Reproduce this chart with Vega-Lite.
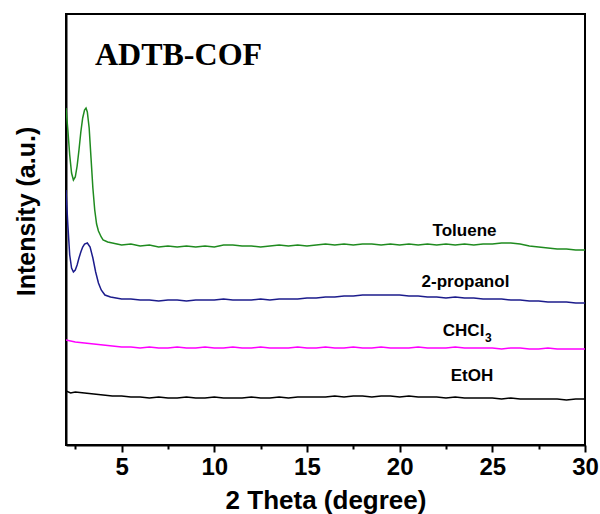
{
  "$schema": "https://vega.github.io/schema/vega-lite/v6.json",
  "width": 519,
  "height": 431,
  "autosize": "none",
  "padding": {"left": 66, "top": 14, "right": 15, "bottom": 69},
  "background": "white",
  "config": {
    "view": {"stroke": "black", "strokeWidth": 2},
    "font": "Liberation Sans"
  },
  "datasets": {
    "xrd": [
      {"s":"Toluene","x":2.0,"y":337},{"s":"Toluene","x":2.1,"y":315},{"s":"Toluene","x":2.2,"y":290},{"s":"Toluene","x":2.3,"y":272},{"s":"Toluene","x":2.4,"y":265},{"s":"Toluene","x":2.5,"y":268},{"s":"Toluene","x":2.6,"y":279},{"s":"Toluene","x":2.7,"y":295},{"s":"Toluene","x":2.8,"y":313},{"s":"Toluene","x":2.9,"y":327},{"s":"Toluene","x":3.0,"y":335},{"s":"Toluene","x":3.08,"y":337},{"s":"Toluene","x":3.15,"y":333},{"s":"Toluene","x":3.25,"y":317},{"s":"Toluene","x":3.35,"y":287},{"s":"Toluene","x":3.45,"y":257},{"s":"Toluene","x":3.55,"y":235},{"s":"Toluene","x":3.65,"y":221},{"s":"Toluene","x":3.75,"y":214},{"s":"Toluene","x":3.9,"y":208},{"s":"Toluene","x":4.0,"y":205},{"s":"Toluene","x":4.25,"y":203},{"s":"Toluene","x":4.5,"y":202},{"s":"Toluene","x":4.75,"y":201},{"s":"Toluene","x":5.0,"y":200},{"s":"Toluene","x":5.5,"y":201},{"s":"Toluene","x":6.0,"y":199},{"s":"Toluene","x":6.5,"y":200},{"s":"Toluene","x":7.0,"y":198},{"s":"Toluene","x":7.5,"y":199},{"s":"Toluene","x":8.0,"y":198},{"s":"Toluene","x":8.5,"y":199},{"s":"Toluene","x":9.0,"y":198},{"s":"Toluene","x":9.5,"y":199},{"s":"Toluene","x":10.0,"y":198},{"s":"Toluene","x":10.5,"y":200},{"s":"Toluene","x":11.0,"y":200},{"s":"Toluene","x":11.5,"y":199},{"s":"Toluene","x":12.0,"y":199},{"s":"Toluene","x":12.5,"y":198},{"s":"Toluene","x":13.0,"y":199},{"s":"Toluene","x":13.5,"y":200},{"s":"Toluene","x":14.0,"y":199},{"s":"Toluene","x":14.5,"y":200},{"s":"Toluene","x":15.0,"y":199},{"s":"Toluene","x":15.5,"y":200},{"s":"Toluene","x":16.0,"y":201},{"s":"Toluene","x":16.5,"y":200},{"s":"Toluene","x":17.0,"y":201},{"s":"Toluene","x":17.5,"y":200},{"s":"Toluene","x":18.0,"y":201},{"s":"Toluene","x":18.5,"y":201},{"s":"Toluene","x":19.0,"y":200},{"s":"Toluene","x":19.5,"y":201},{"s":"Toluene","x":20.0,"y":200},{"s":"Toluene","x":20.5,"y":201},{"s":"Toluene","x":21.0,"y":200},{"s":"Toluene","x":21.5,"y":201},{"s":"Toluene","x":22.0,"y":200},{"s":"Toluene","x":22.5,"y":201},{"s":"Toluene","x":23.0,"y":200},{"s":"Toluene","x":23.5,"y":201},{"s":"Toluene","x":24.0,"y":200},{"s":"Toluene","x":24.5,"y":201},{"s":"Toluene","x":25.0,"y":201},{"s":"Toluene","x":25.5,"y":202},{"s":"Toluene","x":26.0,"y":202},{"s":"Toluene","x":26.5,"y":201},{"s":"Toluene","x":27.0,"y":199},{"s":"Toluene","x":27.5,"y":198},{"s":"Toluene","x":28.0,"y":197},{"s":"Toluene","x":28.5,"y":196},{"s":"Toluene","x":29.0,"y":196},{"s":"Toluene","x":29.5,"y":195},{"s":"Toluene","x":30.0,"y":195},
      {"s":"2-propanol","x":2.0,"y":255},{"s":"2-propanol","x":2.1,"y":220},{"s":"2-propanol","x":2.2,"y":190},{"s":"2-propanol","x":2.3,"y":177},{"s":"2-propanol","x":2.4,"y":173},{"s":"2-propanol","x":2.5,"y":175},{"s":"2-propanol","x":2.6,"y":180},{"s":"2-propanol","x":2.7,"y":187},{"s":"2-propanol","x":2.8,"y":193},{"s":"2-propanol","x":2.9,"y":198},{"s":"2-propanol","x":3.0,"y":201},{"s":"2-propanol","x":3.15,"y":202},{"s":"2-propanol","x":3.3,"y":198},{"s":"2-propanol","x":3.45,"y":187},{"s":"2-propanol","x":3.6,"y":173},{"s":"2-propanol","x":3.75,"y":162},{"s":"2-propanol","x":3.9,"y":155},{"s":"2-propanol","x":4.1,"y":150},{"s":"2-propanol","x":4.4,"y":148},{"s":"2-propanol","x":4.7,"y":147},{"s":"2-propanol","x":5.0,"y":146},{"s":"2-propanol","x":5.5,"y":146},{"s":"2-propanol","x":6.0,"y":145},{"s":"2-propanol","x":6.5,"y":145},{"s":"2-propanol","x":7.0,"y":144},{"s":"2-propanol","x":7.5,"y":145},{"s":"2-propanol","x":8.0,"y":145},{"s":"2-propanol","x":8.5,"y":144},{"s":"2-propanol","x":9.0,"y":145},{"s":"2-propanol","x":9.5,"y":145},{"s":"2-propanol","x":10.0,"y":145},{"s":"2-propanol","x":10.5,"y":146},{"s":"2-propanol","x":11.0,"y":145},{"s":"2-propanol","x":11.5,"y":145},{"s":"2-propanol","x":12.0,"y":145},{"s":"2-propanol","x":12.5,"y":146},{"s":"2-propanol","x":13.0,"y":145},{"s":"2-propanol","x":13.5,"y":146},{"s":"2-propanol","x":14.0,"y":146},{"s":"2-propanol","x":14.5,"y":146},{"s":"2-propanol","x":15.0,"y":147},{"s":"2-propanol","x":15.5,"y":147},{"s":"2-propanol","x":16.0,"y":148},{"s":"2-propanol","x":16.5,"y":148},{"s":"2-propanol","x":17.0,"y":149},{"s":"2-propanol","x":17.5,"y":149},{"s":"2-propanol","x":18.0,"y":150},{"s":"2-propanol","x":18.5,"y":150},{"s":"2-propanol","x":19.0,"y":150},{"s":"2-propanol","x":19.5,"y":150},{"s":"2-propanol","x":20.0,"y":150},{"s":"2-propanol","x":20.5,"y":149},{"s":"2-propanol","x":21.0,"y":149},{"s":"2-propanol","x":21.5,"y":148},{"s":"2-propanol","x":22.0,"y":148},{"s":"2-propanol","x":22.5,"y":147},{"s":"2-propanol","x":23.0,"y":148},{"s":"2-propanol","x":23.5,"y":147},{"s":"2-propanol","x":24.0,"y":147},{"s":"2-propanol","x":24.5,"y":146},{"s":"2-propanol","x":25.0,"y":146},{"s":"2-propanol","x":25.5,"y":146},{"s":"2-propanol","x":26.0,"y":145},{"s":"2-propanol","x":26.5,"y":145},{"s":"2-propanol","x":27.0,"y":144},{"s":"2-propanol","x":27.5,"y":144},{"s":"2-propanol","x":28.0,"y":143},{"s":"2-propanol","x":28.5,"y":143},{"s":"2-propanol","x":29.0,"y":143},{"s":"2-propanol","x":29.5,"y":142},{"s":"2-propanol","x":30.0,"y":142},
      {"s":"CHCl3","x":2.0,"y":105},{"s":"CHCl3","x":2.5,"y":103},{"s":"CHCl3","x":3.0,"y":102},{"s":"CHCl3","x":3.5,"y":101},{"s":"CHCl3","x":4.0,"y":100},{"s":"CHCl3","x":4.5,"y":99},{"s":"CHCl3","x":5.0,"y":98},{"s":"CHCl3","x":5.5,"y":98},{"s":"CHCl3","x":6.0,"y":97},{"s":"CHCl3","x":6.5,"y":98},{"s":"CHCl3","x":7.0,"y":97},{"s":"CHCl3","x":7.5,"y":97},{"s":"CHCl3","x":8.0,"y":98},{"s":"CHCl3","x":8.5,"y":97},{"s":"CHCl3","x":9.0,"y":97},{"s":"CHCl3","x":9.5,"y":98},{"s":"CHCl3","x":10.0,"y":97},{"s":"CHCl3","x":10.5,"y":97},{"s":"CHCl3","x":11.0,"y":98},{"s":"CHCl3","x":11.5,"y":97},{"s":"CHCl3","x":12.0,"y":97},{"s":"CHCl3","x":12.5,"y":98},{"s":"CHCl3","x":13.0,"y":97},{"s":"CHCl3","x":13.5,"y":97},{"s":"CHCl3","x":14.0,"y":97},{"s":"CHCl3","x":14.5,"y":98},{"s":"CHCl3","x":15.0,"y":97},{"s":"CHCl3","x":15.5,"y":97},{"s":"CHCl3","x":16.0,"y":98},{"s":"CHCl3","x":16.5,"y":97},{"s":"CHCl3","x":17.0,"y":97},{"s":"CHCl3","x":17.5,"y":98},{"s":"CHCl3","x":18.0,"y":97},{"s":"CHCl3","x":18.5,"y":97},{"s":"CHCl3","x":19.0,"y":98},{"s":"CHCl3","x":19.5,"y":97},{"s":"CHCl3","x":20.0,"y":97},{"s":"CHCl3","x":20.5,"y":97},{"s":"CHCl3","x":21.0,"y":98},{"s":"CHCl3","x":21.5,"y":97},{"s":"CHCl3","x":22.0,"y":97},{"s":"CHCl3","x":22.5,"y":97},{"s":"CHCl3","x":23.0,"y":98},{"s":"CHCl3","x":23.5,"y":97},{"s":"CHCl3","x":24.0,"y":97},{"s":"CHCl3","x":24.5,"y":97},{"s":"CHCl3","x":25.0,"y":97},{"s":"CHCl3","x":25.5,"y":96},{"s":"CHCl3","x":26.0,"y":97},{"s":"CHCl3","x":26.5,"y":97},{"s":"CHCl3","x":27.0,"y":96},{"s":"CHCl3","x":27.5,"y":96},{"s":"CHCl3","x":28.0,"y":97},{"s":"CHCl3","x":28.5,"y":96},{"s":"CHCl3","x":29.0,"y":96},{"s":"CHCl3","x":29.5,"y":96},{"s":"CHCl3","x":30.0,"y":96},
      {"s":"EtOH","x":2.0,"y":54},{"s":"EtOH","x":2.25,"y":52},{"s":"EtOH","x":2.5,"y":53},{"s":"EtOH","x":3.0,"y":52},{"s":"EtOH","x":3.5,"y":51},{"s":"EtOH","x":4.0,"y":50},{"s":"EtOH","x":4.5,"y":49},{"s":"EtOH","x":5.0,"y":49},{"s":"EtOH","x":5.5,"y":48},{"s":"EtOH","x":6.0,"y":48},{"s":"EtOH","x":6.5,"y":47},{"s":"EtOH","x":7.0,"y":48},{"s":"EtOH","x":7.5,"y":47},{"s":"EtOH","x":8.0,"y":47},{"s":"EtOH","x":8.5,"y":48},{"s":"EtOH","x":9.0,"y":47},{"s":"EtOH","x":9.5,"y":47},{"s":"EtOH","x":10.0,"y":48},{"s":"EtOH","x":10.5,"y":47},{"s":"EtOH","x":11.0,"y":47},{"s":"EtOH","x":11.5,"y":47},{"s":"EtOH","x":12.0,"y":48},{"s":"EtOH","x":12.5,"y":47},{"s":"EtOH","x":13.0,"y":47},{"s":"EtOH","x":13.5,"y":48},{"s":"EtOH","x":14.0,"y":47},{"s":"EtOH","x":14.5,"y":48},{"s":"EtOH","x":15.0,"y":48},{"s":"EtOH","x":15.5,"y":48},{"s":"EtOH","x":16.0,"y":48},{"s":"EtOH","x":16.5,"y":49},{"s":"EtOH","x":17.0,"y":48},{"s":"EtOH","x":17.5,"y":49},{"s":"EtOH","x":18.0,"y":49},{"s":"EtOH","x":18.5,"y":48},{"s":"EtOH","x":19.0,"y":49},{"s":"EtOH","x":19.5,"y":49},{"s":"EtOH","x":20.0,"y":48},{"s":"EtOH","x":20.5,"y":49},{"s":"EtOH","x":21.0,"y":48},{"s":"EtOH","x":21.5,"y":48},{"s":"EtOH","x":22.0,"y":48},{"s":"EtOH","x":22.5,"y":47},{"s":"EtOH","x":23.0,"y":48},{"s":"EtOH","x":23.5,"y":47},{"s":"EtOH","x":24.0,"y":47},{"s":"EtOH","x":24.5,"y":47},{"s":"EtOH","x":25.0,"y":47},{"s":"EtOH","x":25.5,"y":46},{"s":"EtOH","x":26.0,"y":47},{"s":"EtOH","x":26.5,"y":46},{"s":"EtOH","x":27.0,"y":46},{"s":"EtOH","x":27.5,"y":46},{"s":"EtOH","x":28.0,"y":46},{"s":"EtOH","x":28.5,"y":46},{"s":"EtOH","x":29.0,"y":45},{"s":"EtOH","x":29.5,"y":46},{"s":"EtOH","x":30.0,"y":46}
    ],
    "labels": [
      {"t":"Toluene","x":23.5,"y":214},
      {"t":"2-propanol","x":23.55,"y":163},
      {"t":"CHCl","x":23.45,"y":114},
      {"t":"EtOH","x":23.9,"y":69}
    ],
    "subs": [
      {"t":"3","x":24.78,"y":107}
    ],
    "title": [
      {"t":"ADTB-COF","x":8.07,"y":390}
    ]
  },
  "layer": [
    {
      "data": {"name": "xrd"},
      "mark": {"type": "line", "strokeWidth": 1.5, "clip": true},
      "encoding": {
        "x": {
          "field": "x", "type": "quantitative",
          "scale": {"domain": [2, 30], "nice": false, "zero": false},
          "axis": {
            "values": [2.5, 5, 7.5, 10, 12.5, 15, 17.5, 20, 22.5, 25, 27.5, 30],
            "labelExpr": "datum.value % 5 === 0 ? datum.label : ''",
            "title": "2 Theta (degree)",
            "grid": false,
            "domainColor": "black", "domainWidth": 2,
            "tickColor": "black", "tickWidth": 2,
            "tickSize": {"condition": {"test": "datum.value % 5 === 0", "value": 7}, "value": 4},
            "labelFont": "Liberation Sans", "labelFontWeight": "bold", "labelFontSize": 24, "labelColor": "black",
            "labelPadding": 3, "labelFlush": false, "labelOverlap": false,
            "titleFont": "Liberation Sans", "titleFontWeight": "bold", "titleFontSize": 26, "titleColor": "black",
            "titlePadding": 8
          }
        },
        "y": {
          "field": "y", "type": "quantitative",
          "scale": {"domain": [0, 431], "nice": false},
          "axis": {
            "title": "Intensity (a.u.)",
            "labels": false, "ticks": false, "grid": false,
            "domainColor": "black", "domainWidth": 2,
            "titleFont": "Liberation Sans", "titleFontWeight": "bold", "titleFontSize": 25, "titleColor": "black",
            "titlePadding": 27, "titleY": 197
          }
        },
        "color": {
          "field": "s", "type": "nominal",
          "scale": {"domain": ["Toluene", "2-propanol", "CHCl3", "EtOH"], "range": ["#1f8b1f", "#1c1c8c", "#ff00ff", "#000000"]},
          "legend": null
        },
        "detail": {"field": "s"}
      }
    },
    {
      "data": {"name": "labels"},
      "mark": {"type": "text", "font": "Liberation Sans", "fontWeight": "bold", "fontSize": 17, "color": "black", "align": "center", "baseline": "middle"},
      "encoding": {
        "x": {"field": "x", "type": "quantitative"},
        "y": {"field": "y", "type": "quantitative"},
        "text": {"field": "t"}
      }
    },
    {
      "data": {"name": "subs"},
      "mark": {"type": "text", "font": "Liberation Sans", "fontWeight": "bold", "fontSize": 12, "color": "black", "align": "center", "baseline": "middle"},
      "encoding": {
        "x": {"field": "x", "type": "quantitative"},
        "y": {"field": "y", "type": "quantitative"},
        "text": {"field": "t"}
      }
    },
    {
      "data": {"name": "title"},
      "mark": {"type": "text", "font": "Liberation Serif", "fontWeight": "bold", "fontSize": 32, "color": "black", "align": "center", "baseline": "middle"},
      "encoding": {
        "x": {"field": "x", "type": "quantitative"},
        "y": {"field": "y", "type": "quantitative"},
        "text": {"field": "t"}
      }
    }
  ]
}
